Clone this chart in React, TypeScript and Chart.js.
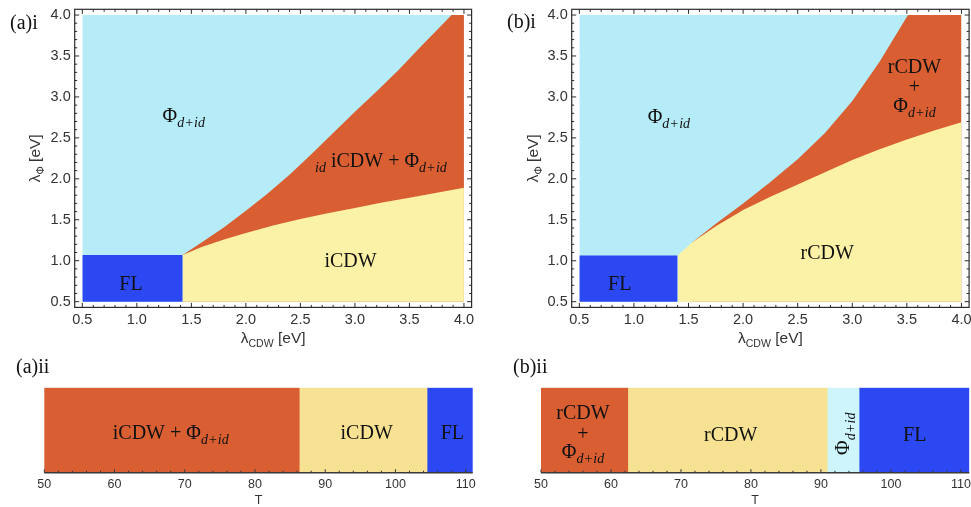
import React, { useEffect, useRef } from 'react';
import { Chart, registerables } from 'chart.js';

Chart.register(...registerables);

// ---------------- data ----------------
const LAMBDA_TICKS = [0.5, 1.0, 1.5, 2.0, 2.5, 3.0, 3.5, 4.0];
const LAMBDA_MIN = 0.5;
const LAMBDA_MAX = 4.0;

// panel (a)i : iCDW
const A_FL_X_END = 1.42;
const A_FL_Y_TOP = 1.07;
const A_UPPER_X = [1.42, 1.6, 1.8, 2.0, 2.2, 2.4, 2.6, 2.8, 3.0, 3.2, 3.4, 3.6, 3.8, 3.886, 4.0];
const A_UPPER_Y = [1.07, 1.23, 1.41, 1.61, 1.82, 2.05, 2.3, 2.56, 2.82, 3.07, 3.33, 3.61, 3.88, 4.0, 4.0];
const A_LOWER_X = [1.42, 1.6, 1.8, 2.0, 2.25, 2.5, 2.75, 3.0, 3.25, 3.5, 3.75, 4.0];
const A_LOWER_Y = [1.07, 1.17, 1.26, 1.34, 1.43, 1.51, 1.58, 1.645, 1.71, 1.77, 1.83, 1.89];

// panel (b)i : rCDW
const B_FL_X_END = 1.4;
const B_FL_Y_TOP = 1.065;
const B_UPPER_X = [1.53, 1.75, 2.0, 2.25, 2.5, 2.75, 3.0, 3.25, 3.51, 4.0];
const B_UPPER_Y = [1.22, 1.45, 1.7, 1.96, 2.24, 2.56, 2.95, 3.43, 4.0, 4.0];
const B_LOWER_X = [1.4, 1.53, 1.75, 2.0, 2.25, 2.5, 2.75, 3.0, 3.25, 3.5, 3.75, 4.0];
const B_LOWER_Y = [1.065, 1.22, 1.42, 1.62, 1.78, 1.93, 2.08, 2.23, 2.36, 2.48, 2.59, 2.69];

// strips (a)ii and (b)ii : T axis
const T_TICKS = [50, 60, 70, 80, 90, 100, 110];
const A_STRIP_PHASES = ['iCDW + Φd+id', 'iCDW', 'FL'];
const A_STRIP_EDGES = [50, 86.3, 104.5, 111.0];
const B_STRIP_PHASES = ['rCDW + Φd+id', 'rCDW', 'Φd+id', 'FL'];
const B_STRIP_EDGES = [50, 62.4, 90.9, 95.45, 111.2];

// ---------------- styles ----------------
const C_PHI = '#B6ECF8';
const C_MIX = '#D95F33';
const C_CDW = '#FCF2A7';
const C_CDW_STRIP = '#F6E292';
const C_FL = '#2C48F2';
const C_PHI_STRIP = '#CDF5FB';
const SERIF = '"Liberation Serif", "DejaVu Serif", serif';
const SANS = '"Liberation Sans", Arial, sans-serif';
const AXIS_COL = '#333333';

type Seg = { t: string; it?: boolean; sub?: boolean; gap?: number };

function drawRich(
  ctx: CanvasRenderingContext2D,
  segs: Seg[],
  x: number,
  y: number,
  size: number,
  family: string,
  align: 'left' | 'center' = 'center',
  subScale = 0.7,
  subShift = 0.27
) {
  const fontOf = (s: Seg) => `${s.it ? 'italic ' : ''}${s.sub ? size * subScale : size}px ${family}`;
  let w = 0;
  const widths = segs.map((s) => {
    ctx.font = fontOf(s);
    const ww = ctx.measureText(s.t).width + 2 * (s.gap || 0);
    w += ww;
    return ww;
  });
  let cx = align === 'center' ? x - w / 2 : x;
  const base = y + size * 0.34;
  ctx.textAlign = 'left';
  ctx.textBaseline = 'alphabetic';
  segs.forEach((s, i) => {
    ctx.font = fontOf(s);
    ctx.fillText(s.t, cx + (s.gap || 0), s.sub ? base + size * subShift : base);
    cx += widths[i];
  });
}

const PHI: Seg[] = [
  { t: 'Φ' },
  { t: 'd', it: true, sub: true },
  { t: '+', sub: true, gap: 1 },
  { t: 'id', it: true, sub: true },
];

type Label = { x: number; y: number; segs: Seg[]; align?: 'left' | 'center' };

interface TopSpec {
  upperX: number[];
  upperY: number[];
  lowerX: number[];
  lowerY: number[];
  flX: number;
  flY: number;
  yAxisW: number;
  xAxisH: number;
  padTop: number;
  padRight: number;
  tag: string;
  tagX: number;
  tagY: number;
  yTitleX: number;
  labels: Label[];
}

const TICK_FONT_TOP = { family: SANS, size: 14.5 };

function topConfig(s: TopSpec): any {
  const pts = (xs: number[], ys: number[]) => xs.map((x, i) => ({ x, y: ys[i] }));
  const ds = (label: string, data: { x: number; y: number }[], color: string, order: number) => ({
    label,
    data,
    backgroundColor: color,
    borderColor: 'rgba(0,0,0,0)',
    borderWidth: 0,
    pointRadius: 0,
    pointHoverRadius: 0,
    tension: 0,
    fill: { value: LAMBDA_MIN },
    order,
  });
  const framePlugin = {
    id: 'frameTicks',
    afterDraw(chart: any) {
      const { ctx, chartArea: a } = chart;
      const xs = chart.scales.x;
      const ys = chart.scales.y;
      ctx.save();
      ctx.strokeStyle = '#2b2b2b';
      ctx.lineWidth = 1.2;
      ctx.strokeRect(a.left, a.top, a.right - a.left, a.bottom - a.top);
      ctx.lineWidth = 1;
      ctx.beginPath();
      for (let i = 0; i <= 35; i++) {
        const v = LAMBDA_MIN + i * 0.1;
        const len = i % 5 === 0 ? 4.5 : 2.5;
        const px = xs.getPixelForValue(v);
        ctx.moveTo(px, a.bottom);
        ctx.lineTo(px, a.bottom - len);
        ctx.moveTo(px, a.top);
        ctx.lineTo(px, a.top + len);
        const py = ys.getPixelForValue(v);
        ctx.moveTo(a.left, py);
        ctx.lineTo(a.left + len, py);
        ctx.moveTo(a.right, py);
        ctx.lineTo(a.right - len, py);
      }
      ctx.stroke();
      ctx.restore();
    },
  };
  const textPlugin = {
    id: 'texts',
    afterDraw(chart: any) {
      const { ctx } = chart;
      const xs = chart.scales.x;
      const ys = chart.scales.y;
      ctx.save();
      ctx.fillStyle = '#111';
      for (const l of s.labels) {
        drawRich(ctx, l.segs, xs.getPixelForValue(l.x), ys.getPixelForValue(l.y), 20, SERIF, l.align || 'center');
      }
      drawRich(ctx, [{ t: s.tag }], s.tagX, s.tagY, 20, SERIF, 'left');
      ctx.fillStyle = AXIS_COL;
      const cx = (xs.getPixelForValue(LAMBDA_MIN) + xs.getPixelForValue(LAMBDA_MAX)) / 2;
      drawRich(ctx, [{ t: 'λ' }, { t: 'CDW', sub: true }, { t: ' [eV]' }], cx, 338, 15.5, SANS, 'center', 0.68, 0.22);
      const cy = (ys.getPixelForValue(LAMBDA_MIN) + ys.getPixelForValue(LAMBDA_MAX)) / 2;
      ctx.translate(s.yTitleX, cy);
      ctx.rotate(-Math.PI / 2);
      drawRich(ctx, [{ t: 'λ' }, { t: 'Φ', sub: true }, { t: ' [eV]' }], 0, 0, 15.5, SANS, 'center', 0.68, 0.22);
      ctx.restore();
    },
  };
  return {
    type: 'line',
    data: {
      datasets: [
        ds('FL', [{ x: LAMBDA_MIN, y: s.flY }, { x: s.flX, y: s.flY }], C_FL, 1),
        ds('CDW', pts(s.lowerX, s.lowerY), C_CDW, 2),
        ds('CDW + Φ', pts(s.upperX, s.upperY), C_MIX, 3),
        ds('Φ', [{ x: LAMBDA_MIN, y: LAMBDA_MAX }, { x: LAMBDA_MAX, y: LAMBDA_MAX }], C_PHI, 4),
      ],
    },
    options: {
      responsive: false,
      animation: false,
      events: [],
      layout: { padding: { left: 0, top: s.padTop, right: s.padRight, bottom: 0 } },
      scales: {
        x: {
          type: 'linear',
          min: 0.43,
          max: 4.07,
          afterBuildTicks: (sc: any) => {
            sc.ticks = LAMBDA_TICKS.map((v) => ({ value: v }));
          },
          afterFit: (sc: any) => {
            sc.height = s.xAxisH;
            sc.paddingLeft = 0;
            sc.paddingRight = 0;
          },
          ticks: {
            autoSkip: false,
            maxRotation: 0,
            padding: 4,
            color: AXIS_COL,
            font: TICK_FONT_TOP,
            callback: (v: any) => Number(v).toFixed(1),
          },
          grid: { display: false, drawTicks: false },
          border: { display: false },
        },
        y: {
          type: 'linear',
          min: 0.43,
          max: 4.07,
          afterBuildTicks: (sc: any) => {
            sc.ticks = LAMBDA_TICKS.map((v) => ({ value: v }));
          },
          afterFit: (sc: any) => {
            sc.width = s.yAxisW;
            sc.paddingTop = 0;
            sc.paddingBottom = 0;
          },
          ticks: {
            autoSkip: false,
            padding: 4,
            color: AXIS_COL,
            font: TICK_FONT_TOP,
            callback: (v: any) => Number(v).toFixed(1),
          },
          grid: { display: false, drawTicks: false },
          border: { display: false },
        },
      },
      plugins: { legend: { display: false }, tooltip: { enabled: false } },
    },
    plugins: [framePlugin, textPlugin],
  };
}

interface StripLabel {
  t: number;
  dy: number;
  segs: Seg[];
  rot?: boolean;
}

interface StripSpec {
  phases: string[];
  edges: number[];
  colors: string[];
  padLeft: number;
  padRight: number;
  padTop: number;
  xAxisH: number;
  tag: string;
  tagX: number;
  labels: StripLabel[];
}

function stripConfig(s: StripSpec): any {
  const last = s.edges[s.edges.length - 1];
  const axisPlugin = {
    id: 'stripAxis',
    afterDraw(chart: any) {
      const { ctx, chartArea: a } = chart;
      const xs = chart.scales.x;
      ctx.save();
      ctx.fillStyle = '#111';
      for (const l of s.labels) {
        const px = xs.getPixelForValue(l.t);
        const py = (a.top + a.bottom) / 2 + l.dy;
        if (l.rot) {
          ctx.save();
          ctx.translate(px, py);
          ctx.rotate(-Math.PI / 2);
          drawRich(ctx, l.segs, 0, 0, 20, SERIF, 'center');
          ctx.restore();
        } else {
          drawRich(ctx, l.segs, px, py, 20, SERIF, 'center');
        }
      }
      drawRich(ctx, [{ t: s.tag }], s.tagX, 14, 20, SERIF, 'left');
      ctx.strokeStyle = '#3a3a3a';
      ctx.lineWidth = 1.5;
      ctx.beginPath();
      ctx.moveTo(a.left, a.bottom);
      ctx.lineTo(a.right, a.bottom);
      ctx.stroke();
      ctx.lineWidth = 1;
      ctx.beginPath();
      for (let v = s.edges[0]; v <= last; v += 2) {
        const len = v % 10 === 0 ? 3.5 : 2;
        const px = xs.getPixelForValue(v);
        ctx.moveTo(px, a.bottom);
        ctx.lineTo(px, a.bottom - len);
      }
      ctx.stroke();
      ctx.fillStyle = AXIS_COL;
      ctx.font = `12.5px ${SANS}`;
      ctx.textAlign = 'center';
      ctx.textBaseline = 'middle';
      ctx.fillText('T', (a.left + a.right) / 2, 148.5);
      ctx.restore();
    },
  };
  return {
    type: 'bar',
    data: {
      labels: [''],
      datasets: s.phases.map((p, i) => ({
        label: p,
        data: [[s.edges[i], s.edges[i + 1]]],
        backgroundColor: s.colors[i],
        borderWidth: 0,
        barPercentage: 1,
        categoryPercentage: 1,
        grouped: false,
      })),
    },
    options: {
      indexAxis: 'y',
      responsive: false,
      animation: false,
      events: [],
      layout: { padding: { left: s.padLeft, top: s.padTop, right: s.padRight, bottom: 0 } },
      scales: {
        x: {
          type: 'linear',
          min: s.edges[0],
          max: last,
          afterBuildTicks: (sc: any) => {
            sc.ticks = T_TICKS.map((v) => ({ value: v }));
          },
          afterFit: (sc: any) => {
            sc.height = s.xAxisH;
            sc.paddingLeft = 0;
            sc.paddingRight = 0;
          },
          ticks: {
            autoSkip: false,
            maxRotation: 0,
            padding: 4,
            color: AXIS_COL,
            font: { family: SANS, size: 12.5 },
          },
          grid: { display: false, drawTicks: false },
          border: { display: false },
        },
        y: { display: false },
      },
      plugins: { legend: { display: false }, tooltip: { enabled: false } },
    },
    plugins: [axisPlugin],
  };
}

// ---------------- panel specs ----------------
const SPEC_A: TopSpec = {
  upperX: A_UPPER_X,
  upperY: A_UPPER_Y,
  lowerX: A_LOWER_X,
  lowerY: A_LOWER_Y,
  flX: A_FL_X_END,
  flY: A_FL_Y_TOP,
  yAxisW: 74.7,
  xAxisH: 44.6,
  padTop: 9.3,
  padRight: 13.4,
  tag: '(a)i',
  tagX: 10,
  tagY: 22,
  yTitleX: 35,
  labels: [
    { x: 1.43, y: 2.78, segs: PHI },
    {
      x: 2.634,
      y: 2.23,
      align: 'left',
      segs: [{ t: 'id', it: true, sub: true }, { t: ' iCDW + Φ' }, { t: 'd', it: true, sub: true }, { t: '+', sub: true, gap: 1 }, { t: 'id', it: true, sub: true }],
    },
    { x: 2.96, y: 1.01, segs: [{ t: 'iCDW' }] },
    { x: 0.946, y: 0.73, segs: [{ t: 'FL' }] },
  ],
};

const SPEC_B: TopSpec = {
  upperX: B_UPPER_X,
  upperY: B_UPPER_Y,
  lowerX: B_LOWER_X,
  lowerY: B_LOWER_Y,
  flX: B_FL_X_END,
  flY: B_FL_Y_TOP,
  yAxisW: 86.7,
  xAxisH: 44.6,
  padTop: 9.3,
  padRight: 1.9,
  tag: '(b)i',
  tagX: 22,
  tagY: 21,
  yTitleX: 48,
  labels: [
    { x: 1.32, y: 2.77, segs: PHI },
    { x: 3.57, y: 3.38, segs: [{ t: 'rCDW' }] },
    { x: 3.57, y: 3.13, segs: [{ t: '+' }] },
    { x: 3.57, y: 2.9, segs: PHI },
    { x: 2.77, y: 1.107, segs: [{ t: 'rCDW' }] },
    { x: 0.87, y: 0.73, segs: [{ t: 'FL' }] },
  ],
};

const STRIP_A: StripSpec = {
  phases: A_STRIP_PHASES,
  edges: A_STRIP_EDGES,
  colors: [C_MIX, C_CDW_STRIP, C_FL],
  padLeft: 44.3,
  padRight: 12.3,
  padTop: 35.7,
  xAxisH: 34.3,
  tag: '(a)ii',
  tagX: 16,
  labels: [
    { t: 68.0, dy: 1.5, segs: [{ t: 'iCDW + Φ' }, { t: 'd', it: true, sub: true }, { t: '+', sub: true, gap: 1 }, { t: 'id', it: true, sub: true }] },
    { t: 95.9, dy: 1.5, segs: [{ t: 'iCDW' }] },
    { t: 108.1, dy: 1.5, segs: [{ t: 'FL' }] },
  ],
};

const STRIP_B: StripSpec = {
  phases: B_STRIP_PHASES,
  edges: B_STRIP_EDGES,
  colors: [C_MIX, C_CDW_STRIP, C_PHI_STRIP, C_FL],
  padLeft: 56,
  padRight: 1.7,
  padTop: 35.7,
  xAxisH: 34.3,
  tag: '(b)ii',
  tagX: 28,
  labels: [
    { t: 56.0, dy: -18.5, segs: [{ t: 'rCDW' }] },
    { t: 56.0, dy: 2.5, segs: [{ t: '+' }] },
    { t: 56.0, dy: 21, segs: PHI },
    { t: 77.1, dy: 3.5, segs: [{ t: 'rCDW' }] },
    { t: 93.1, dy: 3.5, segs: PHI, rot: true },
    { t: 103.4, dy: 3.5, segs: [{ t: 'FL' }] },
  ],
};

function ChartCanvas(props: { left: number; top: number; width: number; height: number; build: () => any }) {
  const ref = useRef<HTMLCanvasElement | null>(null);
  useEffect(() => {
    if (!ref.current) return;
    const chart = new Chart(ref.current, props.build());
    return () => chart.destroy();
  }, []);
  return (
    <canvas
      ref={ref}
      width={props.width}
      height={props.height}
      style={{ position: 'absolute', left: props.left, top: props.top, width: props.width, height: props.height }}
    />
  );
}

export default function App() {
  useEffect(() => {
    document.body.style.margin = '0';
  }, []);
  return (
    <div style={{ position: 'absolute', left: 0, top: 0, width: 971, height: 507, background: '#fff', overflow: 'hidden' }}>
      <ChartCanvas left={0} top={0} width={485} height={352} build={() => topConfig(SPEC_A)} />
      <ChartCanvas left={485} top={0} width={486} height={352} build={() => topConfig(SPEC_B)} />
      <ChartCanvas left={0} top={352} width={485} height={155} build={() => stripConfig(STRIP_A)} />
      <ChartCanvas left={485} top={352} width={486} height={155} build={() => stripConfig(STRIP_B)} />
    </div>
  );
}
